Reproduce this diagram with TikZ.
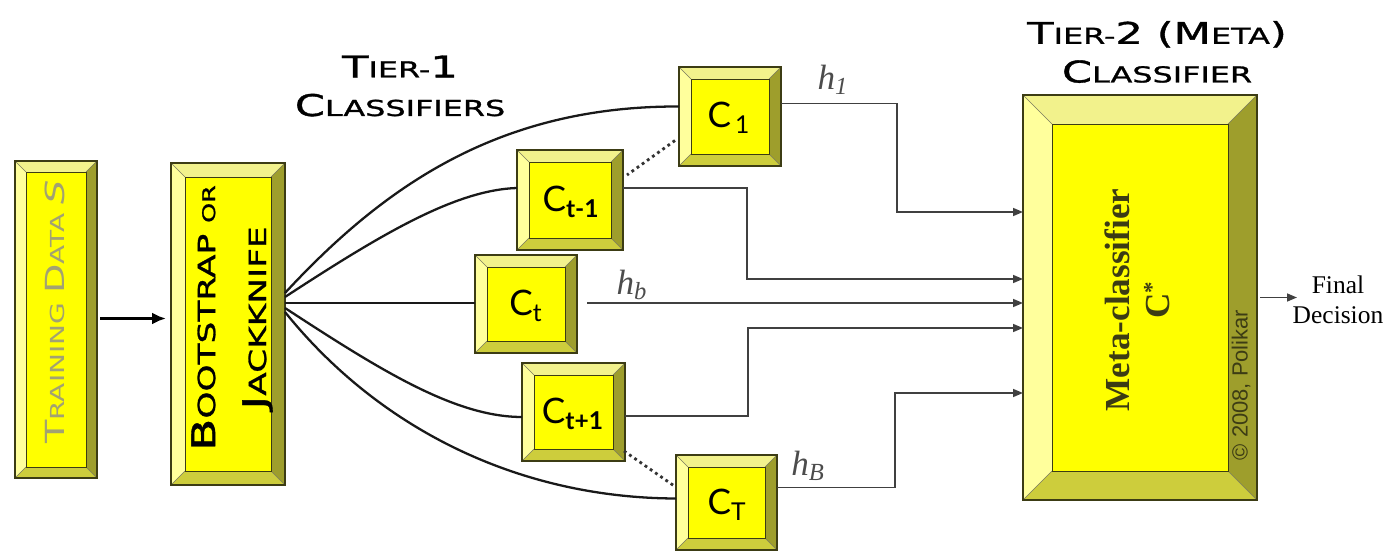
\documentclass[tikz,border=0pt]{standalone}
\usepackage{fontspec}
\setmainfont{Liberation Serif}
\newfontfamily\cop[FakeStretch=1.45]{DejaVu Sans}
\newfontfamily\copb[FakeStretch=1.45,FakeBold=1.2]{DejaVu Sans}
\newfontfamily\gill{Lato}
\newfontfamily\arial{Liberation Sans}
\usetikzlibrary{calc,arrows.meta}
\definecolor{face}{HTML}{FFFF00}
\definecolor{bvT}{HTML}{F2F28C}
\definecolor{bvL}{HTML}{FFFF9C}
\definecolor{bvR}{HTML}{9E9E2C}
\definecolor{bvB}{HTML}{CDCD3C}
\definecolor{edgec}{HTML}{3C3C14}
\definecolor{tdtext}{HTML}{A2A272}
\newcommand\Bg[1]{{\fontsize{17pt}{20pt}\selectfont #1}}
\newcommand\Bt[1]{{\fontsize{15pt}{18pt}\selectfont #1}}
\newcommand\Bb[1]{{\fontsize{18.5pt}{20pt}\selectfont #1}}
\newcommand\Sm[1]{{\fontsize{10pt}{10pt}\selectfont #1}}
\newcommand\bvbox[6]{%
  \pgfmathsetmacro\bw{(#4-#2)*0.02}%
  \pgfmathsetmacro\bh{(#5-#3)*0.02}%
  \node[inner sep=0pt, outer sep=0pt, minimum width=\bw cm, minimum height=\bh cm] (#1) at ({(#2+#4)/2},{(#3+#5)/2}) {};
  \fill[bvT] (#1.north west) -- (#1.north east) -- ($(#1.north east)+(-#6,#6)$) -- ($(#1.north west)+(#6,#6)$) -- cycle;
  \fill[bvL] (#1.north west) -- ($(#1.north west)+(#6,#6)$) -- ($(#1.south west)+(#6,-#6)$) -- (#1.south west) -- cycle;
  \fill[bvR] (#1.north east) -- ($(#1.north east)+(-#6,#6)$) -- ($(#1.south east)+(-#6,-#6)$) -- (#1.south east) -- cycle;
  \fill[bvB] (#1.south west) -- ($(#1.south west)+(#6,-#6)$) -- ($(#1.south east)+(-#6,-#6)$) -- (#1.south east) -- cycle;
  \draw[edgec!70, line width=0.3pt] (#1.north west) -- ($(#1.north west)+(#6,#6)$)
     (#1.north east) -- ($(#1.north east)+(-#6,#6)$)
     (#1.south west) -- ($(#1.south west)+(#6,-#6)$)
     (#1.south east) -- ($(#1.south east)+(-#6,-#6)$);
  \filldraw[fill=face, draw=edgec, line width=0.5pt] ($(#1.north west)+(#6,#6)$) rectangle ($(#1.south east)+(-#6,-#6)$);
  \draw[edgec, line width=0.8pt] (#1.north west) rectangle (#1.south east);
}
\tikzset{
  conn/.style={draw=black!75, line width=0.9pt},
  arr/.style={-{Triangle[length=0.2cm,width=0.16cm]}},
  curv/.style={draw=black!90, line width=1.3pt},
  dots/.style={draw=black!80, line width=1.6pt, dash pattern=on 1.6pt off 2pt},
  cop/.style={font=\copb\fontsize{12.5pt}{22pt}\selectfont, align=center, inner sep=0pt},
  clab/.style={font=\gill\fontsize{20pt}{22pt}\selectfont, inner sep=0pt},
  hlab/.style={font=\itshape\fontsize{20pt}{22pt}\selectfont, text=black!70, inner sep=0pt}
}
\begin{document}
\begin{tikzpicture}[x=0.02cm, y=-0.02cm]
\useasboundingbox (0,0) rectangle (1393,553);
% boxes
\bvbox{td}{15}{161}{97}{478}{11}
\bvbox{boot}{171}{163}{285}{485}{14}
\bvbox{C1}{679}{67}{781}{166}{12}
\bvbox{Cp}{517}{150}{623}{250}{12}
\bvbox{Ct}{475}{255}{577}{353}{12}
\bvbox{Cn}{522}{363}{625}{461}{12}
\bvbox{CT}{676}{455}{777}{550}{12}
\bvbox{meta}{1023}{95}{1257}{500}{29}
% texts in boxes
\node[rotate=90, text=tdtext, font=\cop\fontsize{11pt}{14pt}\selectfont, inner sep=0pt] (tdlab) at (55,312) {\Bt{T}RAINING \Bt{D}ATA \Bt{\itshape S}};
\node[rotate=90, align=center, inner sep=0pt, font=\copb\fontsize{13.5pt}{29pt}\selectfont] (bootlab) at (232,318) {\Bb{B}OOTSTRAP \Sm{OR}\\\Bb{J}ACKKNIFE};
\node[clab] (C1lab) at (729,118) {C\textsubscript{\,1}};
\node[clab] (Cplab) at (571,202) {C\textsubscript{\bfseries t-1}};
\node[clab] (Ctlab) at (526,306) {C\textsubscript{t}};
\node[clab] (Cnlab) at (573,414) {C\textsubscript{\bfseries t+1}};
\node[clab] (CTlab) at (727,505) {C\textsubscript{T}};
\node[rotate=90, align=center, font=\bfseries\fontsize{20pt}{23pt}\selectfont, text=edgec, inner sep=0pt] (metalab) at (1137,300) {Meta-classifier\\C{\fontsize{13pt}{13pt}\selectfont\raisebox{0.45em}{*}}};
\node[rotate=90, font=\arial\fontsize{12.5pt}{14pt}\selectfont, text=edgec, inner sep=0pt] (copy) at (1241,385) {\textcopyright\ 2008, Polikar};
% titles
\node[cop] (tier1) at (400,86) {\Bg{T}IER-\Bg{1}\\\Bg{C}LASSIFIERS};
\node[cop] (tier2) at (1157,52) {\Bg{T}IER-\Bg{2 (M}ETA\Bg{)}\\\Bg{C}LASSIFIER};
% input arrow
\draw[line width=2.2pt, -{Latex[length=0.28cm,width=0.24cm]}] ($(td.east)+(3,-1)$) -- ($(td.east -| boot.west)+(-5,-1)$);
% fan-out curves
\draw[curv] ($(boot.east)+(0,-31)$) .. controls (385,185) and (500,106) .. ($(C1.west)+(0,-10)$);
\draw[curv] ($(boot.east)+(0,-27)$) .. controls (380,235) and (455,190) .. ($(Cp.west)+(0,-12)$);
\draw[curv] ($(boot.east)+(0,-21)$) -- ($(Ct.west)+(0,-1)$);
\draw[curv] ($(boot.east)+(0,-16)$) .. controls (380,370) and (455,417) .. ($(Cn.west)+(0,5)$);
\draw[curv] ($(boot.east)+(0,-12)$) .. controls (380,430) and (520,498) .. ($(CT.west)+(0,-4)$);
% dotted
\draw[dots] ($(C1.west)+(-4,24)$) -- ($(Cp.north east)+(4,25)$);
\draw[dots] ($(Cn.south east)+(-1,-10)$) -- ($(CT.west)+(-1,-16)$);
% inputs to meta
\coordinate (in1) at ($(meta.north west)+(0,117)$);
\coordinate (in2) at ($(meta.north west)+(0,184)$);
\coordinate (in3) at ($(meta.north west)+(0,208)$);
\coordinate (in4) at ($(meta.north west)+(0,233)$);
\coordinate (in5) at ($(meta.north west)+(0,298)$);
\draw[conn, arr] ($(C1.east)+(0,-13)$) -- ++(116,0) |- (in1);
\draw[conn, arr] ($(Cp.east)+(0,-12)$) -- ++(124,0) |- (in2);
\draw[conn, arr] ($(in3 -| Ct.east)+(10,0)$) -- (in3);
\draw[conn, arr] ($(Cn.east)+(0,4)$) -- ++(123,0) |- (in4);
\draw[conn, arr] ($(CT.east)+(0,-15)$) -- ++(118,0) |- (in5);
% labels
\node[hlab] (h1) at (833,80) {h\textsubscript{\itshape 1}};
\node[hlab] (hb) at (632,285) {h\textsubscript{b}};
\node[hlab] (hB) at (808,466) {h\textsubscript{B}};
% output
\coordinate (outend) at ($(meta.east)+(40,0)$);
\draw[conn, arr] ($(meta.east)+(3,0)$) -- (outend);
\node[align=center, font=\fontsize{14.5pt}{17pt}\selectfont, inner sep=0pt] (final) at (1338,300) {Final\\Decision};
\end{tikzpicture}
\end{document}
